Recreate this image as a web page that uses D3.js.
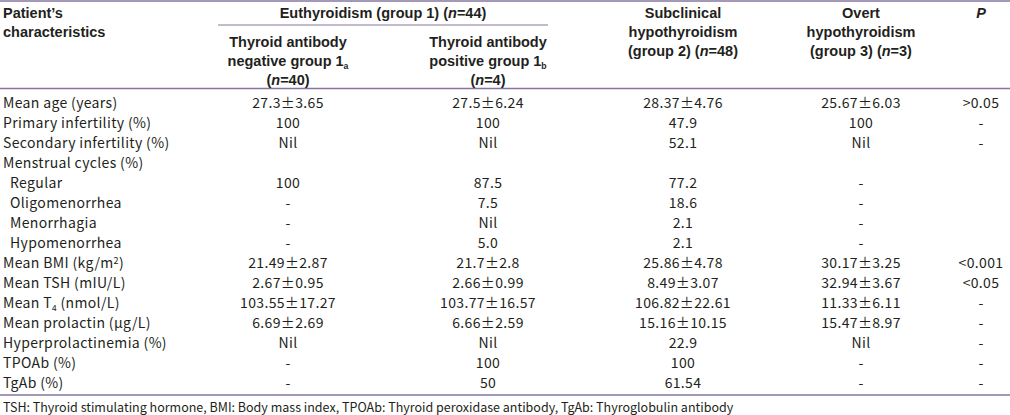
<!DOCTYPE html>
<html><head><meta charset="utf-8">
<script src="https://cdn.jsdelivr.net/npm/d3@7"></script>
<style>body{margin:0;background:#fff}svg{display:block}</style>
</head><body><svg id="c" width="1010" height="415"></svg>
<script>
// ---- data ----
const rowLabels = ["Mean age (years)","Primary infertility (%)","Secondary infertility (%)","Menstrual cycles (%)","Regular","Oligomenorrhea","Menorrhagia","Hypomenorrhea","Mean BMI (kg/m^2)","Mean TSH (mIU/L)","Mean T_4 (nmol/L)","Mean prolactin (μg/L)","Hyperprolactinemia (%)","TPOAb (%)","TgAb (%)"];
const indentedRows = ["Regular","Oligomenorrhea","Menorrhagia","Hypomenorrhea"];
const group1a = ["27.3±3.65","100","Nil","","100","-","-","-","21.49±2.87","2.67±0.95","103.55±17.27","6.69±2.69","Nil","-","-"];
const group1b = ["27.5±6.24","100","Nil","","87.5","7.5","Nil","5.0","21.7±2.8","2.66±0.99","103.77±16.57","6.66±2.59","Nil","100","50"];
const group2 = ["28.37±4.76","47.9","52.1","","77.2","18.6","2.1","2.1","25.86±4.78","8.49±3.07","106.82±22.61","15.16±10.15","22.9","100","61.54"];
const group3 = ["25.67±6.03","100","Nil","","-","-","-","-","30.17±3.25","32.94±3.67","11.33±6.11","15.47±8.97","Nil","-","-"];
const pValues = [">0.05","-","-","","","","","","<0.001","<0.05","-","-","-","-","-"];
const columnKeys = ["g1a","g1b","g2","g3","p"];
const columnHeaders = [
  ["Thyroid antibody","negative group 1_a","(*n*=40)"],
  ["Thyroid antibody","positive group 1_b","(*n*=4)"],
  ["Subclinical","hypothyroidism","(group 2) (*n*=48)"],
  ["Overt","hypothyroidism","(group 3) (*n*=3)"],
  ["*P*"]
];
const stubHeader = ["Patient’s","characteristics"];
const spanHeader = "Euthyroidism (group 1) (*n*=44)";
const footnote = "TSH: Thyroid stimulating hormone, BMI: Body mass index, TPOAb: Thyroid peroxidase antibody, TgAb: Thyroglobulin antibody";

// ---- drawing ----
const svg = d3.select("#c");
const ruleColor = "#86769f";
const textColor = "#231f20";
const bodyFont = "'Noto Sans CJK JP', 'Noto Sans', sans-serif";
const headFont = "'Liberation Sans', Arial, sans-serif";

const xPos = {g1a: 288, g1b: 488, g2: 683, g3: 861, p: 981};
const x = d3.scaleOrdinal().domain(columnKeys).range(columnKeys.map(k => xPos[k]));
const y = d3.scalePoint().domain(d3.range(rowLabels.length)).range([103, 383]);

function rich(sel, str, baseSize) {
  const parts = str.split(/(_\w|\^\w|\*[^*]+\*)/).filter(s => s.length);
  let shift = 0;
  parts.forEach(p => {
    if (p[0] === "_") {
      sel.append("tspan").attr("dy", 3).attr("font-size", baseSize * 0.6).text(p.slice(1));
      shift = -3;
    } else if (p[0] === "^") {
      sel.append("tspan").attr("dy", -4).attr("font-size", baseSize * 0.65).text(p.slice(1));
      shift = 4;
    } else if (p[0] === "*") {
      const t = sel.append("tspan").attr("font-style", "italic").text(p.slice(1, -1));
      if (shift) t.attr("dy", shift);
      shift = 0;
    } else {
      const t = sel.append("tspan").text(p);
      if (shift) t.attr("dy", shift);
      shift = 0;
    }
  });
}

// rules
svg.append("line").attr("x1", 0).attr("x2", 1010).attr("y1", 1).attr("y2", 1)
  .attr("stroke", ruleColor).attr("stroke-width", 1.5);
svg.append("line").attr("x1", 218).attr("x2", 548).attr("y1", 25).attr("y2", 25)
  .attr("stroke", ruleColor).attr("stroke-width", 1);
svg.append("line").attr("x1", 0).attr("x2", 1010).attr("y1", 88.5).attr("y2", 88.5)
  .attr("stroke", ruleColor).attr("stroke-width", 1.5);
svg.append("line").attr("x1", 0).attr("x2", 1010).attr("y1", 395).attr("y2", 395)
  .attr("stroke", ruleColor).attr("stroke-width", 1.5);

// header
const hSize = 14.5;
const head = svg.append("g").attr("font-family", headFont).attr("font-weight", "bold")
  .attr("font-size", hSize).attr("fill", textColor);
stubHeader.forEach((t, i) => {
  head.append("text").attr("x", 3).attr("y", 18 + i * 19).text(t);
});
rich(head.append("text").attr("x", (218 + 548) / 2).attr("y", 18).attr("text-anchor", "middle"), spanHeader, hSize);
const headerRowY = {g1a: 47, g1b: 47, g2: 18, g3: 18, p: 18};
columnKeys.forEach((k, ci) => {
  columnHeaders[ci].forEach((line, li) => {
    rich(head.append("text").attr("x", x(k)).attr("y", headerRowY[k] + li * 19)
      .attr("text-anchor", "middle"), line, hSize);
  });
});

// body
const bSize = 14;
const base = bSize * 0.36;
const body = svg.append("g").attr("font-family", bodyFont).attr("font-size", bSize)
  .attr("letter-spacing", 0.35).attr("fill", textColor);
rowLabels.forEach((lab, i) => {
  const t = body.append("text")
    .attr("x", indentedRows.includes(lab) ? 10 : 3)
    .attr("y", y(i) + base);
  rich(t, lab, bSize);
});
const cols = {g1a: group1a, g1b: group1b, g2: group2, g3: group3, p: pValues};
columnKeys.forEach(k => {
  body.selectAll(null).data(cols[k]).join("text")
    .attr("x", x(k)).attr("y", (d, i) => y(i) + base)
    .attr("text-anchor", "middle").text(d => d);
});

svg.append("text").attr("x", 3).attr("y", 407 + 12.5 * 0.36)
  .attr("font-family", bodyFont).attr("font-size", 12.5).attr("fill", textColor).text(footnote);
</script></body></html>
